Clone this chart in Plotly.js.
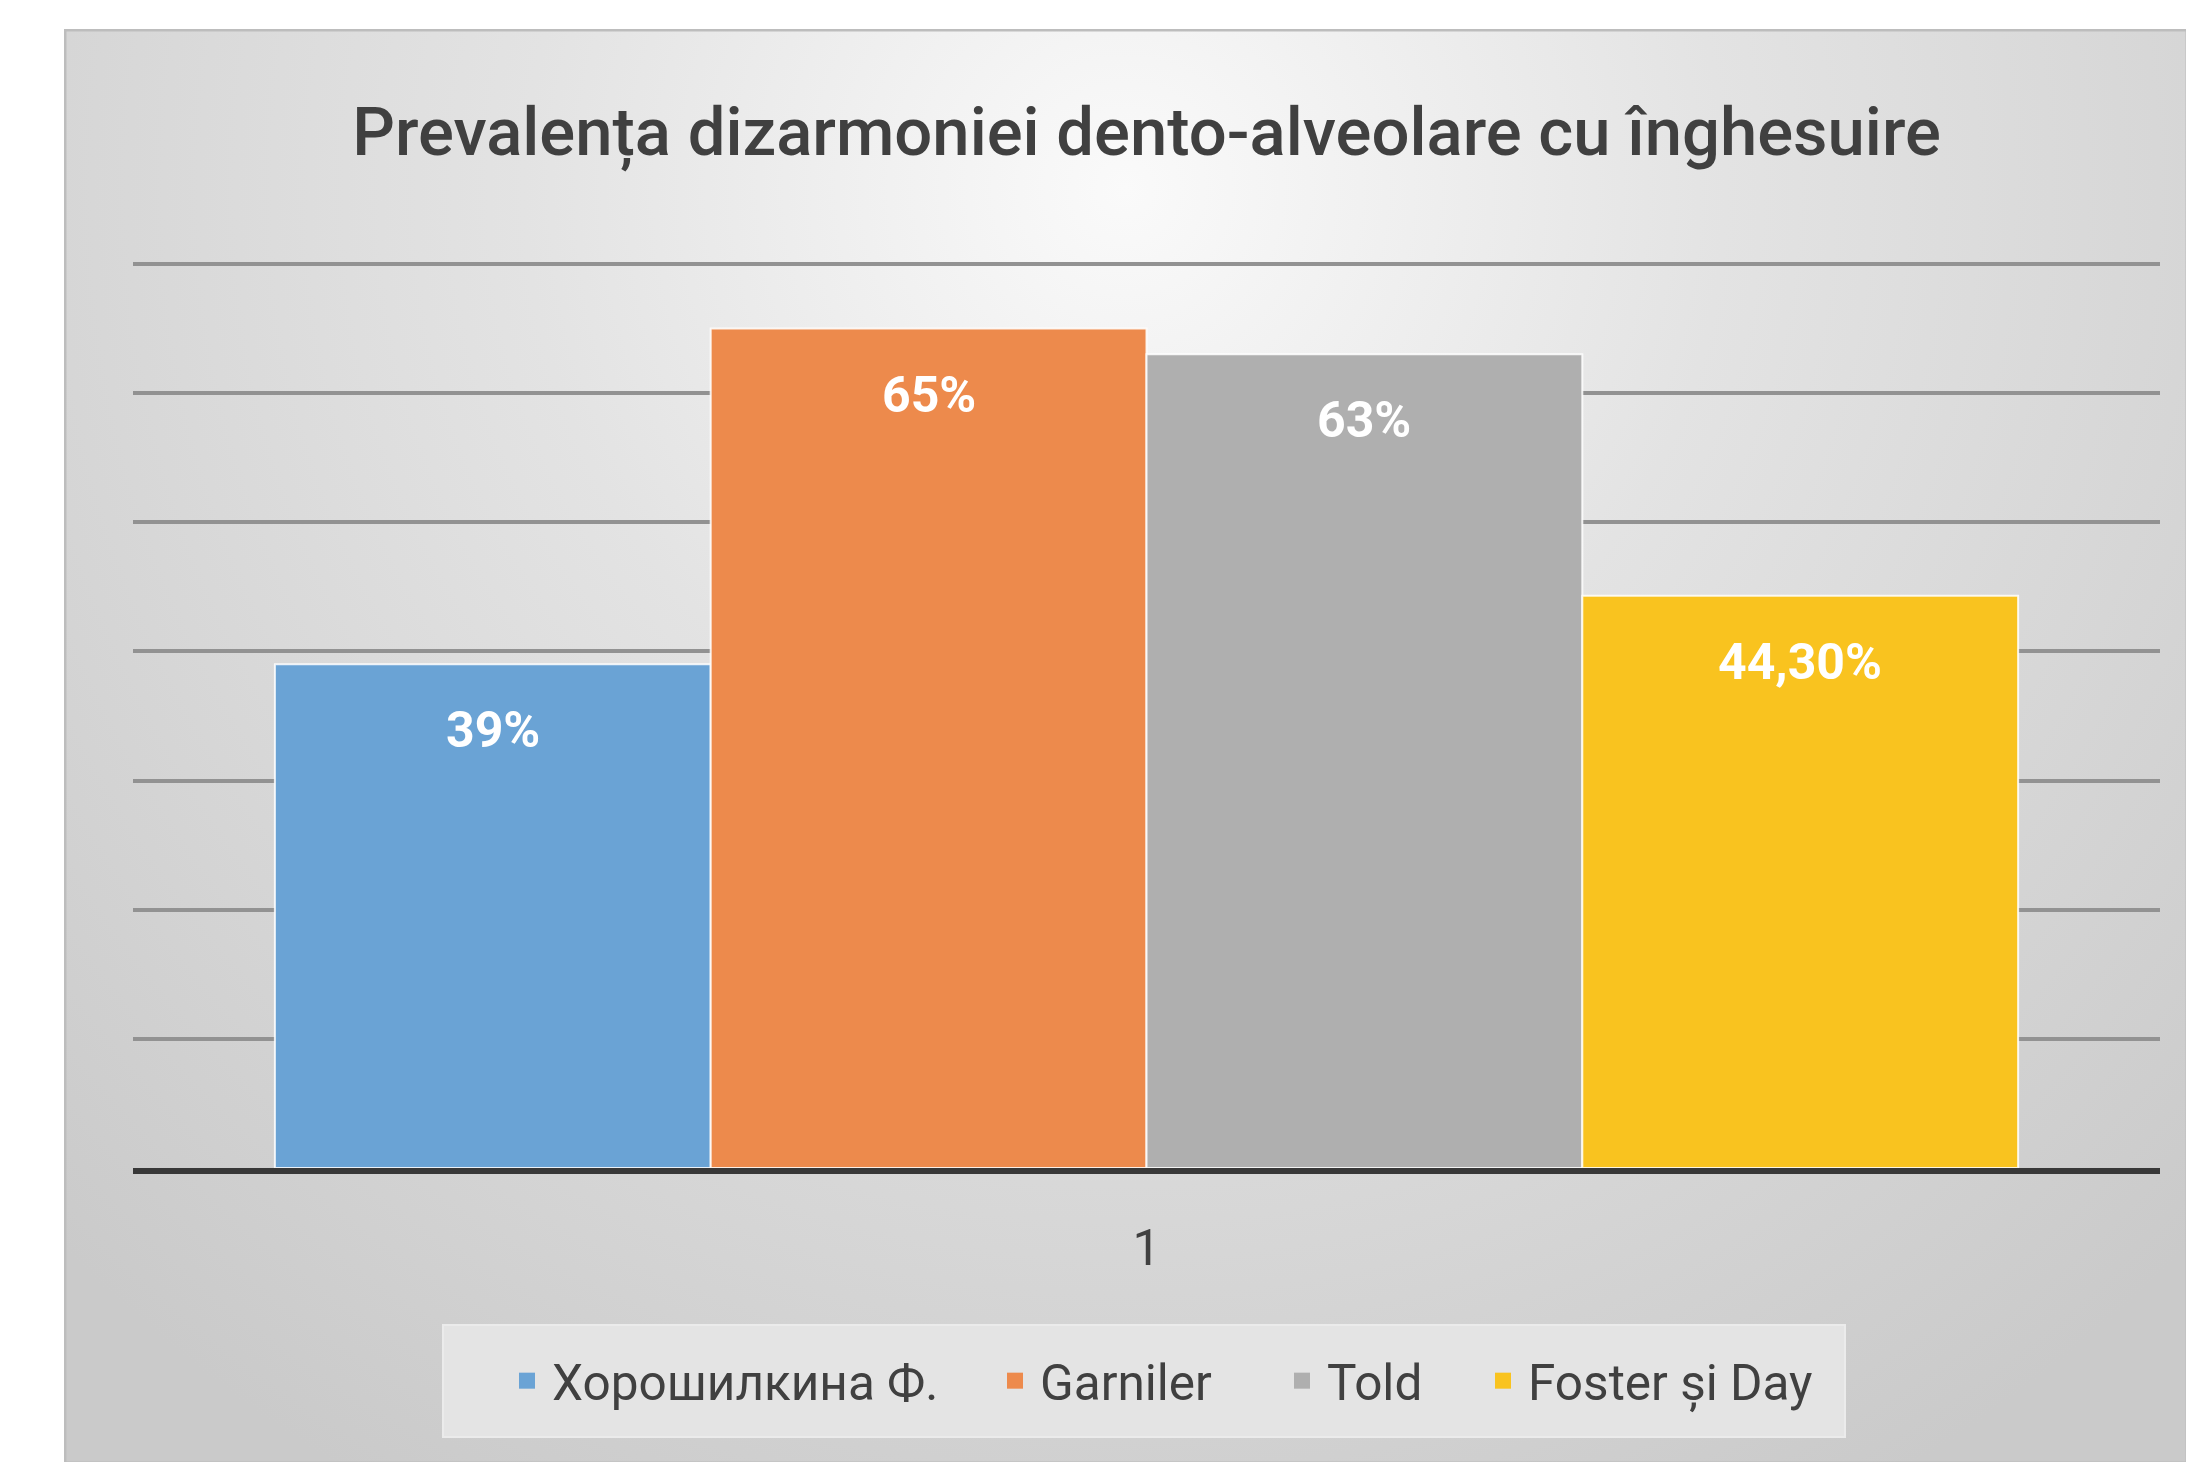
<!DOCTYPE html>
<html>
<head>
<meta charset="utf-8">
<script src="https://cdn.plot.ly/plotly-3.0.1.min.js"></script>
<style>
  html, body { margin: 0; padding: 0; background: #ffffff; }
  #chart { width: 2186px; height: 1462px; }
</style>
</head>
<body>
<div id="chart"></div>
<script>
// ---- Data ----
const categories = ['1'];
const seriesNames = ['Хорошилкина Ф.', 'Garniler', 'Told', 'Foster și Day'];
const seriesValues = [39, 65, 63, 44.3];
const valueLabels = ['39%', '65%', '63%', '44,30%'];
const seriesColors = ['#6aa3d5', '#ed8a4c', '#afafaf', '#f9c31f'];
const chartTitle = 'Prevalența dizarmoniei dento-alveolare cu înghesuire';

// ---- Layout constants ----
const W = 2186, H = 1462;
const yMax = 70.15;
const M = { l: 133, r: 26, t: 262, b: 294 };
const plotW = W - M.l - M.r, plotH = H - M.t - M.b;
const bargap = 0.14;
const FONT = 'Roboto, "Open Sans", sans-serif';

function px2paperX(px) { return (px - M.l) / plotW; }
function px2paperY(py) { return (H - M.b - py) / plotH; }

// background panel with soft radial gradient
const panel = { x0: 64, y0: 29, x1: 2186, y1: 1462 };
const pw = panel.x1 - panel.x0, ph = panel.y1 - panel.y0;
const svg = `<svg xmlns="http://www.w3.org/2000/svg" width="${pw}" height="${ph}" viewBox="0 0 ${pw} ${ph}" preserveAspectRatio="none">
<defs><radialGradient id="g" gradientUnits="userSpaceOnUse" cx="${pw*0.5}" cy="160" r="1500">
<stop offset="0" stop-color="#fafafa"/><stop offset="0.4" stop-color="#e3e3e3"/><stop offset="1" stop-color="#cacaca"/></radialGradient></defs>
<rect width="${pw}" height="${ph}" fill="url(#g)"/>
<rect x="1" y="1" width="${pw}" height="${ph}" fill="none" stroke="#bdbdbd" stroke-width="3"/></svg>`;
const bgSrc = 'data:image/svg+xml;charset=utf-8,' + encodeURIComponent(svg);

const barTraces = seriesNames.map((name, i) => ({
  type: 'bar',
  name: name,
  x: categories,
  y: [seriesValues[i]],
  marker: { color: seriesColors[i], line: { color: 'rgba(255,255,255,0.85)', width: 2 } },
  showlegend: false,
  hoverinfo: 'skip'
}));

// legend entries (square swatches), one legend per entry so spacing matches
const legendLeftPx = [502, 990, 1277, 1478];
const legendIds = ['legend', 'legend2', 'legend3', 'legend4'];
const legendTraces = seriesNames.map((name, i) => ({
  type: 'scatter',
  mode: 'markers',
  name: name,
  x: [null],
  y: [null],
  marker: { symbol: 'square', size: 16, color: seriesColors[i] },
  legend: legendIds[i],
  showlegend: true,
  hoverinfo: 'skip'
}));

const n = seriesNames.length;
const bw = (1 - bargap) / n;
const annotations = seriesValues.map((v, i) => ({
  x: -(1 - bargap) / 2 + bw * (i + 0.5),
  xref: 'x',
  y: v,
  yref: 'y',
  yshift: -66,
  yanchor: 'middle',
  text: valueLabels[i],
  showarrow: false,
  font: { family: FONT, size: 50, color: '#ffffff', weight: 700 }
}));

const layout = {
  width: W,
  height: H,
  margin: M,
  paper_bgcolor: '#ffffff',
  plot_bgcolor: 'rgba(0,0,0,0)',
  barmode: 'group',
  bargap: bargap,
  bargroupgap: 0,
  title: {
    text: chartTitle,
    font: { family: FONT, size: 67, color: '#404040', weight: 500 },
    x: 0.5, xref: 'paper', xanchor: 'center',
    y: 1 - 132 / H, yref: 'container', yanchor: 'middle'
  },
  xaxis: {
    type: 'category',
    showline: true,
    linecolor: '#383838',
    linewidth: 6,
    showgrid: false,
    zeroline: false,
    ticks: '',
    ticklabelstandoff: 31,
    tickfont: { family: FONT, size: 50, color: '#404040' }
  },
  yaxis: {
    range: [0, yMax],
    tick0: 0,
    dtick: 10,
    showticklabels: false,
    showgrid: true,
    gridcolor: '#929292',
    gridwidth: 4,
    zeroline: false,
    showline: false,
    ticks: ''
  },
  showlegend: true,
  images: [{
    source: bgSrc,
    xref: 'paper', yref: 'paper',
    x: px2paperX(panel.x0), y: px2paperY(panel.y0),
    sizex: pw / plotW, sizey: ph / plotH,
    xanchor: 'left', yanchor: 'top',
    sizing: 'stretch',
    layer: 'below'
  }],
  shapes: [{
    type: 'rect', xref: 'paper', yref: 'paper', layer: 'below',
    x0: px2paperX(443), x1: px2paperX(1845),
    y0: px2paperY(1437), y1: px2paperY(1325),
    fillcolor: '#e4e4e4',
    line: { color: '#ebebeb', width: 2 }
  }],
  annotations: annotations
};

legendIds.forEach((id, i) => {
  layout[id] = {
    orientation: 'h',
    x: px2paperX(legendLeftPx[i]), xanchor: 'left', xref: 'paper',
    y: px2paperY(1381), yanchor: 'middle', yref: 'paper',
    bgcolor: 'rgba(0,0,0,0)',
    borderwidth: 0,
    itemwidth: 40,
    font: { family: FONT, size: 49.5, color: '#404040' }
  };
});

Plotly.newPlot('chart', barTraces.concat(legendTraces), layout, { displayModeBar: false, staticPlot: true });
</script>
</body>
</html>
